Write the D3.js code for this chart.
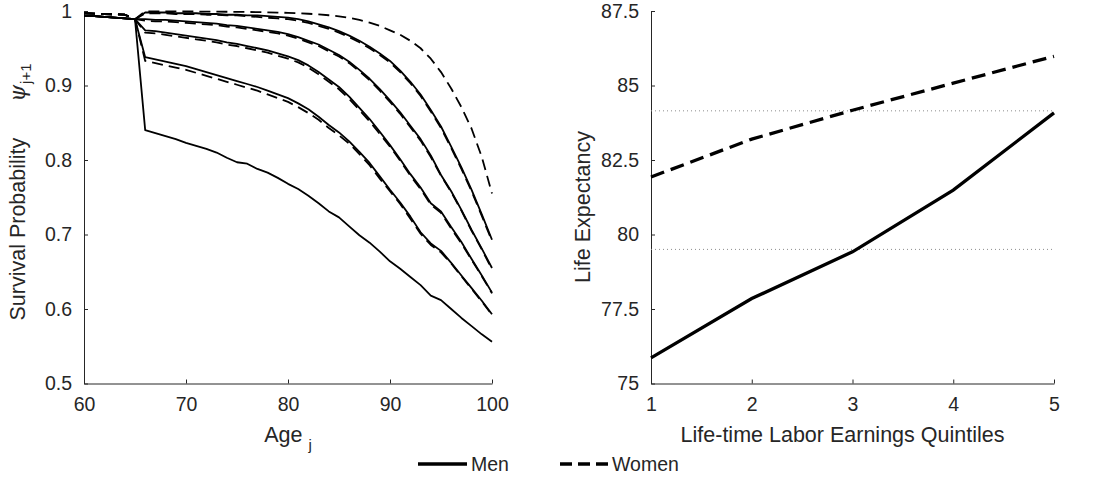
<!DOCTYPE html>
<html>
<head>
<meta charset="utf-8">
<script src="https://cdn.jsdelivr.net/npm/d3@7/dist/d3.min.js"></script>
<style>
  body { margin: 0; background: #fff; }
  svg  { display: block; }
  text { font-family: "Liberation Sans", Arial, sans-serif; fill: #262626; }
</style>
</head>
<body>
<svg id="chart" width="1106" height="478"></svg>
<script>
/* global d3 */

// ---------- left panel: survival probabilities ----------
const ages      = [60,61,62,63,64,65,66,67,68,69,70,71,72,73,74,75,76,77,78,79,80,
                   81,82,83,84,85,86,87,88,89,90,91,92,93,94,95,96,97,98,99,100];
const menPre    = [0.9935,0.9930,0.9920,0.9910,0.9900,0.9890];   // ages 60-65
const womenPre  = [0.9970,0.9965,0.9960,0.9955,0.9950,0.9890];

// ages 66-100, by lifetime earnings quintile
const menQ1 = [0.840,0.836,0.832,0.828,0.823,0.819,0.815,0.810,0.803,0.797,0.795,0.788,0.783,0.776,0.768,
               0.761,0.752,0.742,0.731,0.723,0.711,0.699,0.689,0.677,0.664,0.654,0.643,0.632,0.618,0.612,
               0.600,0.588,0.577,0.566,0.556];
const menQ2 = [0.938,0.935,0.932,0.929,0.926,0.922,0.918,0.914,0.910,0.906,0.902,0.898,0.893,0.888,0.883,
               0.876,0.868,0.858,0.847,0.837,0.825,0.811,0.796,0.778,0.760,0.743,0.724,0.703,0.688,0.678,
               0.662,0.645,0.628,0.611,0.593];
const menQ3 = [0.974,0.973,0.971,0.969,0.967,0.965,0.963,0.961,0.958,0.956,0.953,0.950,0.947,0.943,0.939,
               0.934,0.927,0.918,0.908,0.898,0.885,0.870,0.855,0.838,0.820,0.801,0.781,0.763,0.742,0.731,
               0.710,0.690,0.667,0.645,0.622];
const menQ4 = [0.989,0.988,0.988,0.987,0.986,0.985,0.984,0.983,0.981,0.980,0.978,0.976,0.974,0.972,0.969,
               0.965,0.960,0.955,0.948,0.941,0.932,0.921,0.909,0.895,0.880,0.864,0.846,0.828,0.806,0.780,
               0.758,0.733,0.706,0.681,0.655];
const menQ5 = [0.998,0.998,0.998,0.997,0.997,0.997,0.996,0.996,0.995,0.995,0.994,0.994,0.993,0.992,0.991,
               0.989,0.986,0.982,0.978,0.973,0.967,0.960,0.952,0.943,0.933,0.920,0.905,0.888,0.867,0.845,
               0.818,0.790,0.760,0.727,0.693];

const womenQ1 = [0.933,0.930,0.927,0.924,0.921,0.917,0.913,0.909,0.905,0.901,0.897,0.893,0.888,0.883,0.878,
                 0.871,0.863,0.854,0.843,0.833,0.822,0.808,0.793,0.775,0.758,0.741,0.721,0.701,0.686,0.676,
                 0.661,0.644,0.627,0.610,0.592];
const womenQ2 = [0.971,0.970,0.968,0.966,0.964,0.962,0.960,0.958,0.955,0.953,0.950,0.947,0.944,0.940,0.936,
                 0.931,0.924,0.915,0.905,0.895,0.882,0.867,0.852,0.835,0.818,0.799,0.779,0.761,0.740,0.729,
                 0.708,0.688,0.666,0.644,0.621];
const womenQ3 = [0.987,0.986,0.986,0.985,0.984,0.983,0.982,0.981,0.979,0.978,0.976,0.974,0.972,0.970,0.967,
                 0.963,0.958,0.953,0.946,0.939,0.930,0.919,0.907,0.893,0.878,0.862,0.844,0.826,0.804,0.779,
                 0.757,0.732,0.705,0.680,0.653];
const womenQ4 = [0.997,0.997,0.997,0.996,0.996,0.996,0.995,0.995,0.994,0.994,0.993,0.992,0.991,0.990,0.989,
                 0.987,0.984,0.980,0.976,0.971,0.965,0.958,0.950,0.941,0.931,0.918,0.903,0.886,0.865,0.843,
                 0.816,0.788,0.758,0.725,0.691];
const womenQ5 = [0.9995,0.9995,0.9994,0.9994,0.9993,0.9993,0.9992,0.9991,0.9990,0.9989,0.9987,0.9985,0.9982,0.9979,0.9975,
                 0.9970,0.9963,0.9955,0.9943,0.9928,0.9907,0.9880,0.9845,0.9800,0.9740,0.9680,0.9600,0.9500,0.9360,0.9180,
                 0.8960,0.8710,0.8420,0.8040,0.7550];

const leftYTicks = [0.5,0.6,0.7,0.8,0.9,1];
const leftXTicks = [60,70,80,90,100];

// ---------- right panel: life expectancy ----------
const quintiles   = [1,2,3,4,5];
const lifeMen     = [75.86,77.85,79.42,81.49,84.08];
const lifeWomen   = [81.93,83.20,84.17,85.08,85.98];
const refLines    = [84.15,79.50];
const rightYTicks = [75,77.5,80,82.5,85,87.5];

// ============================================================
const svg = d3.select('#chart');

const xL = d3.scaleLinear().domain([60,100]).range([84,492]);
const yL = d3.scaleLinear().domain([0.5,1]).range([383.5,11]);
const xR = d3.scaleLinear().domain([1,5]).range([651,1054]);
const yR = d3.scaleLinear().domain([75,87.5]).range([383.5,11]);

const tickFont = '19.5px';
const labelFont = '21.5px';

function styleAxis (g) {
  g.select('.domain').attr('stroke','#262626').attr('stroke-width',1);
  g.selectAll('.tick line').attr('stroke','#262626');
  g.selectAll('.tick text').style('font-size',tickFont).attr('fill','#262626');
}

/* -------- left axes -------- */
svg.append('g').attr('transform',`translate(0,${yL(0.5)})`)
  .call(d3.axisBottom(xL).tickValues(leftXTicks).tickFormat(d3.format('d'))
    .tickSize(-4).tickSizeOuter(0).tickPadding(14))
  .call(styleAxis);
svg.append('g').attr('transform',`translate(${xL(60)},0)`)
  .call(d3.axisLeft(yL).tickValues(leftYTicks).tickFormat(d3.format('~g'))
    .tickSize(-4).tickSizeOuter(0).tickPadding(12))
  .call(styleAxis);

/* -------- left lines -------- */
const lineL = d3.line().x(d => xL(d[0])).y(d => yL(d[1]));
const survival = [
  { pre: menPre,   vals: menQ1,   dash: null },
  { pre: menPre,   vals: menQ2,   dash: null },
  { pre: menPre,   vals: menQ3,   dash: null },
  { pre: menPre,   vals: menQ4,   dash: null },
  { pre: menPre,   vals: menQ5,   dash: null },
  { pre: womenPre, vals: womenQ1, dash: '11,6' },
  { pre: womenPre, vals: womenQ2, dash: '11,6' },
  { pre: womenPre, vals: womenQ3, dash: '11,6' },
  { pre: womenPre, vals: womenQ4, dash: '11,6' },
  { pre: womenPre, vals: womenQ5, dash: '11,6' }
];
svg.append('g').selectAll('path').data(survival).enter().append('path')
  .attr('d', s => lineL(ages.map((a,i) => [a, s.pre.concat(s.vals)[i]])))
  .attr('fill','none').attr('stroke','#000').attr('stroke-width',1.8)
  .attr('stroke-linejoin','round')
  .attr('stroke-dasharray', s => s.dash);

/* -------- left labels -------- */
const yLab = svg.append('text')
  .attr('transform','translate(25,192) rotate(-90)')
  .attr('text-anchor','middle').style('font-size',labelFont);
yLab.append('tspan').text('Survival Probability');
yLab.append('tspan').attr('dx',36).style('font-family','"DejaVu Serif", serif')
  .style('font-style','italic').text('ψ');
yLab.append('tspan').attr('dy',6).attr('dx',1).style('font-size','15px').text('j+1');

const xLab = svg.append('text')
  .attr('x',(xL(60)+xL(100))/2).attr('y',442)
  .attr('text-anchor','middle').style('font-size',labelFont);
xLab.append('tspan').text('Age');
xLab.append('tspan').attr('dx',6).attr('dy',8).style('font-size','15px').text('j');

/* -------- right axes -------- */
svg.append('g').attr('transform',`translate(0,${yR(75)})`)
  .call(d3.axisBottom(xR).tickValues(quintiles).tickFormat(d3.format('d'))
    .tickSize(-4).tickSizeOuter(0).tickPadding(14))
  .call(styleAxis);
svg.append('g').attr('transform',`translate(${xR(1)},0)`)
  .call(d3.axisLeft(yR).tickValues(rightYTicks).tickFormat(d3.format('~g'))
    .tickSize(-4).tickSizeOuter(0).tickPadding(12))
  .call(styleAxis);

/* -------- reference dotted lines -------- */
svg.append('g').selectAll('line').data(refLines).enter().append('line')
  .attr('x1',xR(1)).attr('x2',xR(5))
  .attr('y1',d => yR(d)).attr('y2',d => yR(d))
  .attr('stroke','#8c8c8c').attr('stroke-width',1).attr('stroke-dasharray','1,3');

/* -------- right lines -------- */
const lineR = d3.line().x(d => xR(d[0])).y(d => yR(d[1]));
svg.append('path')
  .attr('d', lineR(quintiles.map((q,i) => [q, lifeMen[i]])))
  .attr('fill','none').attr('stroke','#000').attr('stroke-width',3.3);
svg.append('path')
  .attr('d', lineR(quintiles.map((q,i) => [q, lifeWomen[i]])))
  .attr('fill','none').attr('stroke','#000').attr('stroke-width',3.3)
  .attr('stroke-dasharray','14,7');

svg.append('text')
  .attr('transform','translate(590,207) rotate(-90)')
  .attr('text-anchor','middle').style('font-size',labelFont)
  .text('Life Expectancy');
svg.append('text')
  .attr('x',(xR(1)+xR(5))/2 - 10).attr('y',442)
  .attr('text-anchor','middle').style('font-size',labelFont)
  .text('Life-time Labor Earnings Quintiles');

/* -------- legend -------- */
const legend = svg.append('g').attr('transform','translate(418,464)');
legend.append('line').attr('x1',0).attr('x2',49).attr('stroke','#000').attr('stroke-width',3.3);
legend.append('text').attr('x',53).attr('y',7).style('font-size',tickFont).text('Men');
legend.append('line').attr('x1',142).attr('x2',190).attr('stroke','#000').attr('stroke-width',3.3)
  .attr('stroke-dasharray','12,6');
legend.append('text').attr('x',194).attr('y',7).style('font-size',tickFont).text('Women');
</script>
</body>
</html>
